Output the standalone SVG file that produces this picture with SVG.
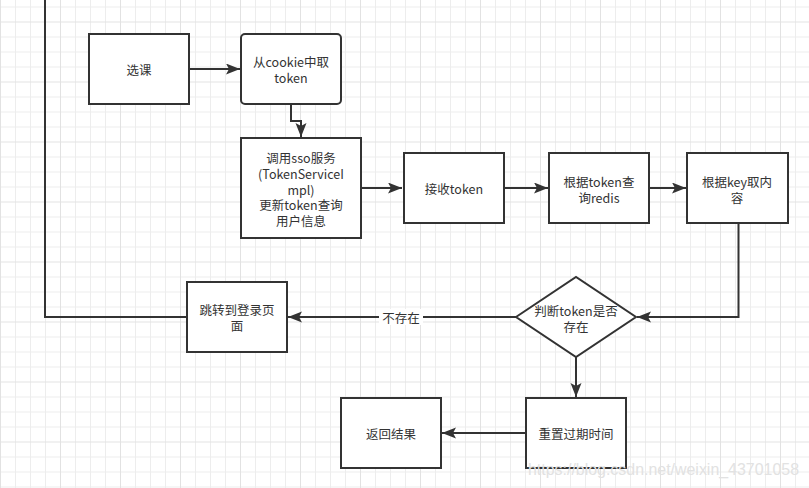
<svg xmlns="http://www.w3.org/2000/svg" width="809" height="488" viewBox="0 0 809 488">
<defs>
<pattern id="grid" x="0" y="21.5" width="60" height="60" patternUnits="userSpaceOnUse">
<path d="M15.5 0V60M30.5 0V60M45.5 0V60M0 15.5H60M0 30.5H60M0 45.5H60" stroke="#ededed" stroke-width="1" fill="none"/>
<path d="M0.5 0V60M0 0.5H60" stroke="#e2e2e2" stroke-width="1" fill="none"/>
</pattern>
<marker id="arr" markerUnits="userSpaceOnUse" markerWidth="16" markerHeight="12" refX="14" refY="5.5" orient="auto">
<path d="M0,0 L14,5.5 L0,11 L3,5.5 z" fill="#333"/>
</marker>
<style>
.box{fill:#fff;stroke:#333;stroke-width:2}
.t{font-family:"Noto Sans CJK SC","Microsoft YaHei",sans-serif;font-size:12.5px;fill:#333;text-anchor:middle;dominant-baseline:central}
.c{fill:none;stroke:#333;stroke-width:2}
</style>
</defs>
<rect width="809" height="488" fill="#fff"/>
<rect width="809" height="488" fill="url(#grid)"/>
<g id="connectors">
<path class="c" d="M45 0V317H187"/>
<path class="c" d="M189 69H240" marker-end="url(#arr)"/>
<path class="c" d="M291 104V121H301V137" marker-end="url(#arr)"/>
<path class="c" d="M361 188H402" marker-end="url(#arr)"/>
<path class="c" d="M504 188H548" marker-end="url(#arr)"/>
<path class="c" d="M649 188H686" marker-end="url(#arr)"/>
<path class="c" d="M738.5 223V317H637" marker-end="url(#arr)"/>
<path class="c" d="M516 317H288" marker-end="url(#arr)"/>
<rect x="379" y="309" width="44" height="16" fill="#fff"/>
<text class="t" x="401" y="317">不存在</text>
<path class="c" d="M576 357V397" marker-end="url(#arr)"/>
<path class="c" d="M526 433H442" marker-end="url(#arr)"/>
</g>
<g id="n1"><rect class="box" x="89" y="34" width="100" height="70"/><text class="t" x="139" y="69">选课</text></g>
<g id="n2"><rect class="box" x="241" y="34" width="100" height="70" rx="4"/><text class="t" x="291" y="61.5">从cookie中取</text><text class="t" x="291" y="77.5">token</text></g>
<g id="n3"><rect class="box" x="241" y="138" width="120" height="100"/>
<text class="t" x="301" y="157">调用sso服务</text><text class="t" x="301" y="173">(TokenServiceI</text><text class="t" x="301" y="189">mpl)</text><text class="t" x="301" y="204.5">更新token查询</text><text class="t" x="301" y="220">用户信息</text></g>
<g id="n4"><rect class="box" x="404" y="153" width="100" height="70"/><text class="t" x="454" y="188">接收token</text></g>
<g id="n5"><rect class="box" x="549" y="153" width="100" height="70"/><text class="t" x="599" y="181">根据token查</text><text class="t" x="599" y="197">询redis</text></g>
<g id="n6"><rect class="box" x="687" y="153" width="101" height="70"/><text class="t" x="737" y="181">根据key取内</text><text class="t" x="737" y="197">容</text></g>
<g id="n7"><path class="box" d="M516 317L576 277L636 317L576 357Z"/><text class="t" x="576" y="310">判断token是否</text><text class="t" x="576" y="326">存在</text></g>
<g id="n8"><rect class="box" x="187" y="282" width="100" height="70"/><text class="t" x="237" y="309.5">跳转到登录页</text><text class="t" x="237" y="325.5">面</text></g>
<g id="n9"><rect class="box" x="526" y="398" width="100" height="70"/><text class="t" x="576" y="433">重置过期时间</text></g>
<g id="n10"><rect class="box" x="341" y="398" width="100" height="70"/><text class="t" x="391" y="433">返回结果</text></g>
<text x="528" y="475" font-family="Liberation Sans, Arial, sans-serif" font-size="16" fill="#e2e2e2" textLength="271" lengthAdjust="spacingAndGlyphs">https://blog.csdn.net/weixin_43701058</text>
</svg>
